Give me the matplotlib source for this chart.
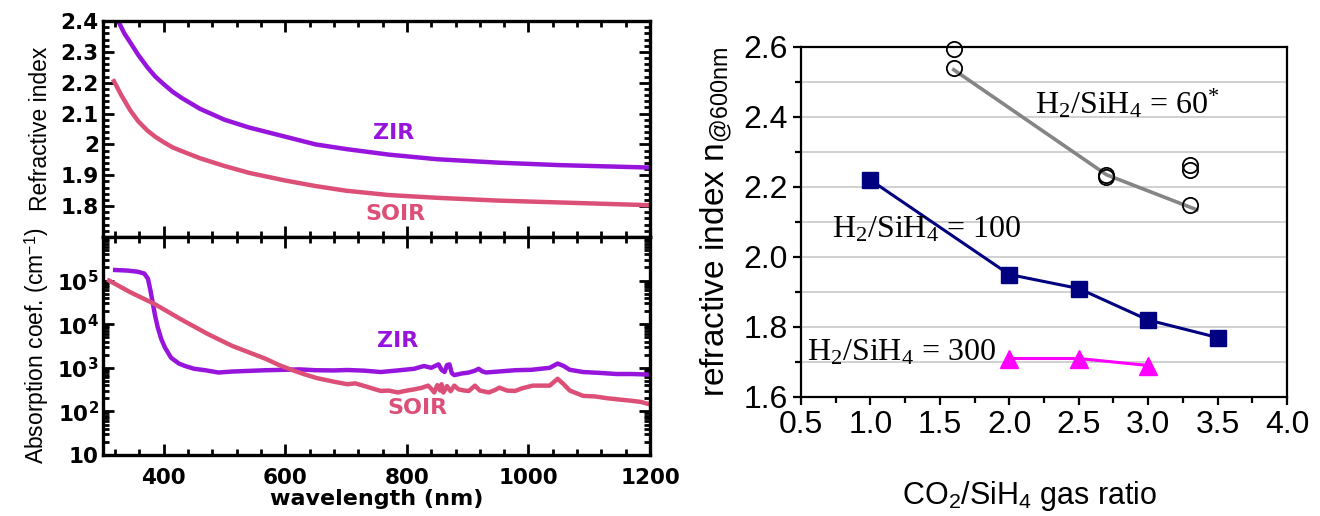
import numpy as np
import matplotlib
matplotlib.use('Agg')
from matplotlib import pyplot as plt
from matplotlib.ticker import AutoMinorLocator, MultipleLocator, LogLocator, NullFormatter, FixedLocator

plt.rcParams['mathtext.fontset'] = 'custom'
plt.rcParams['mathtext.rm'] = 'Liberation Serif'
plt.rcParams['mathtext.sf'] = 'Liberation Sans'
plt.rcParams['mathtext.bf'] = 'DejaVu Sans:bold'
plt.rcParams['mathtext.it'] = 'Liberation Serif:italic'

# ---- left top: refractive index vs wavelength
wl_zir_n = [325, 335, 345, 358, 373, 386, 400, 415, 430, 460, 500, 540, 600, 650, 700, 770, 850, 950, 1050, 1200]
n_zir = [2.40, 2.36, 2.33, 2.29, 2.25, 2.22, 2.195, 2.17, 2.15, 2.115, 2.08, 2.055, 2.025, 2.0,
         1.985, 1.967, 1.952, 1.941, 1.933, 1.925]
wl_soir_n = [318, 330, 345, 358, 373, 386, 400, 415, 430, 460, 500, 540, 600, 650, 700, 770, 850, 950, 1050, 1200]
n_soir = [2.205, 2.16, 2.11, 2.075, 2.045, 2.025, 2.007, 1.99, 1.978, 1.955, 1.93, 1.908, 1.883, 1.865,
          1.85, 1.836, 1.827, 1.818, 1.812, 1.803]

# ---- left bottom: absorption coefficient
wl_zir_a = [320, 340, 357, 368, 374, 378, 382, 386, 390, 396, 402, 412, 425, 435, 450, 468, 490, 512, 540,
            568, 600, 623, 650, 680, 702, 730, 757, 785, 812, 828, 840, 852, 857, 862, 866, 870, 874, 878,
            890, 902, 912, 918, 924, 930, 950, 978, 1005, 1035, 1048, 1058, 1068, 1090, 1120, 1145, 1170, 1198]
a_zir = [1.75e5, 1.7e5, 1.6e5, 1.45e5, 1.1e5, 6e4, 3e4, 1.5e4, 8.5e3, 4.5e3, 2.9e3, 1.7e3, 1.25e3, 1.1e3,
         950, 880, 780, 820, 850, 880, 900, 920, 880, 870, 890, 860, 800, 870, 950, 1100, 1000, 1200, 900,
         800, 1150, 1200, 750, 680, 740, 780, 860, 950, 830, 780, 820, 880, 900, 1000, 1250, 1100, 900,
         800, 760, 720, 720, 700]
wl_soir_a = [310, 345, 385, 428, 473, 512, 568, 590, 612, 630, 652, 680, 702, 715, 728, 745, 757, 770, 785,
             800, 812, 825, 835, 840, 845, 850, 855, 857, 860, 866, 872, 878, 885, 895, 902, 912, 920, 935,
             945, 952, 965, 978, 990, 1007, 1035, 1048, 1058, 1068, 1090, 1110, 1130, 1145, 1170, 1185, 1198]
a_soir = [1.0e5, 5.4e4, 2.9e4, 1.3e4, 5.9e3, 3.2e3, 1.6e3, 1.15e3, 880, 720, 580, 480, 420, 440, 390, 330,
          295, 300, 272, 300, 320, 350, 390, 330, 272, 400, 300, 420, 270, 380, 290, 390, 320, 300, 295,
          390, 300, 272, 310, 350, 300, 295, 340, 390, 390, 560, 420, 300, 227, 220, 200, 190, 175, 165, 147]

# ---- right: refractive index vs CO2/SiH4
x_60_line = [1.6, 2.7, 3.35]
y_60_line = [2.535, 2.235, 2.135]
x_60_pts = [1.6, 1.6, 2.7, 2.7, 3.3, 3.3, 3.3]
y_60_pts = [2.595, 2.54, 2.235, 2.228, 2.262, 2.249, 2.148]
x_100 = [1.0, 2.0, 2.5, 3.0, 3.5]
y_100 = [2.22, 1.95, 1.91, 1.82, 1.77]
x_300 = [2.0, 2.5, 3.0]
y_300 = [1.71, 1.71, 1.69]

purple = '#9614DC'
pink = '#DC5078'

fig = plt.figure(figsize=(13.2, 5.16), dpi=100)
W, H = 1320, 516
ax1 = fig.add_axes([103 / W, 1 - 237 / H, (650 - 103) / W, (237 - 21) / H])
ax2 = fig.add_axes([103 / W, 1 - 455 / H, (650 - 103) / W, (455 - 237) / H])
ax3 = fig.add_axes([801 / W, 1 - 397 / H, (1287 - 801) / W, (397 - 47) / H])

bold_ticks = dict(fontfamily='DejaVu Sans', fontweight='bold', fontsize=15.5)
lab_font = dict(fontfamily='DejaVu Sans', fontweight='bold', fontsize=16)

for ax in (ax1, ax2):
    for s in ax.spines.values():
        s.set_linewidth(2.4)
    ax.set_xlim(300, 1200)
    ax.xaxis.set_major_locator(MultipleLocator(200))
    ax.xaxis.set_minor_locator(AutoMinorLocator(5))
    ax.tick_params(which='both', direction='in', top=True, right=True, width=2, pad=3)
    ax.tick_params(which='major', length=8)
    ax.tick_params(which='minor', length=4)

ax1.plot(wl_zir_n, n_zir, color=purple, lw=3.2)
ax1.plot(wl_soir_n, n_soir, color=pink, lw=3.2)
ax1.set_ylim(1.7, 2.4)
ax1.yaxis.set_major_locator(FixedLocator([1.8, 1.9, 2.0, 2.1, 2.2, 2.3, 2.4]))
ax1.yaxis.set_minor_locator(MultipleLocator(0.02))
ax1.set_yticklabels(['1.8', '1.9', '2', '2.1', '2.2', '2.3', '2.4'], **bold_ticks)
ax1.set_xticklabels([])
ax1.set_ylabel('Refractive index', fontfamily='Liberation Sans', fontsize=16.5, labelpad=6)
ax1.text(778, 2.038, 'ZIR', color=purple, ha='center', va='center', **lab_font)
ax1.text(781, 1.775, 'SOIR', color=pink, ha='center', va='center', **lab_font)

ax2.plot(wl_zir_a, a_zir, color=purple, lw=3.2)
ax2.plot(wl_soir_a, a_soir, color=pink, lw=3.2)
ax2.set_yscale('log')
ax2.set_ylim(10, 1e6)
ax2.yaxis.set_major_locator(FixedLocator([10, 1e2, 1e3, 1e4, 1e5]))
ax2.yaxis.set_minor_locator(LogLocator(base=10, subs=np.arange(2, 10)))
ax2.yaxis.set_minor_formatter(NullFormatter())
ax2.set_yticklabels(['10', r'$\mathbf{10^{2}}$', r'$\mathbf{10^{3}}$', r'$\mathbf{10^{4}}$',
                     r'$\mathbf{10^{5}}$'], **bold_ticks)
ax2.set_xticks([400, 600, 800, 1000, 1200])
ax2.set_xticklabels(['400', '600', '800', '1000', '1200'], **bold_ticks)
ax2.tick_params(axis='x', pad=9)
ax2.set_ylabel(r'Absorption coef. (cm$^{\mathsf{-1}}$)', fontfamily='Liberation Sans', fontsize=16.5,
               labelpad=4)
ax2.set_xlabel('wavelength (nm)', fontfamily='DejaVu Sans', fontweight='bold', fontsize=16, labelpad=1)
ax2.text(785, 4.1e3, 'ZIR', color=purple, ha='center', va='center', **lab_font)
ax2.text(818, 117, 'SOIR', color=pink, ha='center', va='center', **lab_font)

# right panel
ax3.set_xlim(0.5, 4.0)
ax3.set_ylim(1.6, 2.6)
for y in np.arange(1.7, 2.55, 0.1):
    ax3.axhline(y, color='#c8c8c8', lw=1.2, zorder=0)
for s in ax3.spines.values():
    s.set_linewidth(1.6)
ax3.xaxis.set_major_locator(MultipleLocator(0.5))
ax3.xaxis.set_minor_locator(MultipleLocator(0.25))
ax3.yaxis.set_major_locator(MultipleLocator(0.2))
ax3.yaxis.set_minor_locator(MultipleLocator(0.1))
ax3.tick_params(which='both', direction='out', width=1.6, labelsize=23)
ax3.tick_params(which='major', length=6)
ax3.tick_params(which='minor', length=4)
for lab in ax3.get_xticklabels() + ax3.get_yticklabels():
    lab.set_fontfamily('Liberation Sans')
ax3.xaxis.set_major_formatter(matplotlib.ticker.FormatStrFormatter('%.1f'))
ax3.yaxis.set_major_formatter(matplotlib.ticker.FormatStrFormatter('%.1f'))

ax3.plot(x_60_line, y_60_line, color='#858585', lw=2.6, zorder=3)
ax3.plot(x_60_pts, y_60_pts, ls='none', marker='o', ms=11, mfc='none', mec='black', mew=1.3,
         zorder=4, clip_on=False)
ax3.plot(x_100, y_100, color='#000080', lw=2.2, marker='s', ms=11, zorder=3)
ax3.plot(x_300, y_300, color='#FF00FF', lw=2.2, marker='^', ms=13, zorder=3)

serif = dict(fontfamily='Liberation Serif', fontsize=23, math_fontfamily='custom')
ax3.text(2.185, 2.41, r'H$_2$/SiH$_4$ = 60$^{*}$', **serif)
ax3.text(0.72, 2.057, r'H$_2$/SiH$_4$ = 100', **serif)
ax3.text(0.54, 1.703, r'H$_2$/SiH$_4$ = 300', **serif)

ax3.set_ylabel(r'refractive index n$_{\mathsf{@600nm}}$', fontfamily='Liberation Sans', fontsize=24,
               labelpad=6)
ax3.set_xlabel(r'CO$_{\mathsf{2}}$/SiH$_{\mathsf{4}}$ gas ratio', fontfamily='Liberation Sans', fontsize=22,
               labelpad=28)
ax3.xaxis.label.set_x(0.47)

fig.savefig('out.png', dpi=100)
